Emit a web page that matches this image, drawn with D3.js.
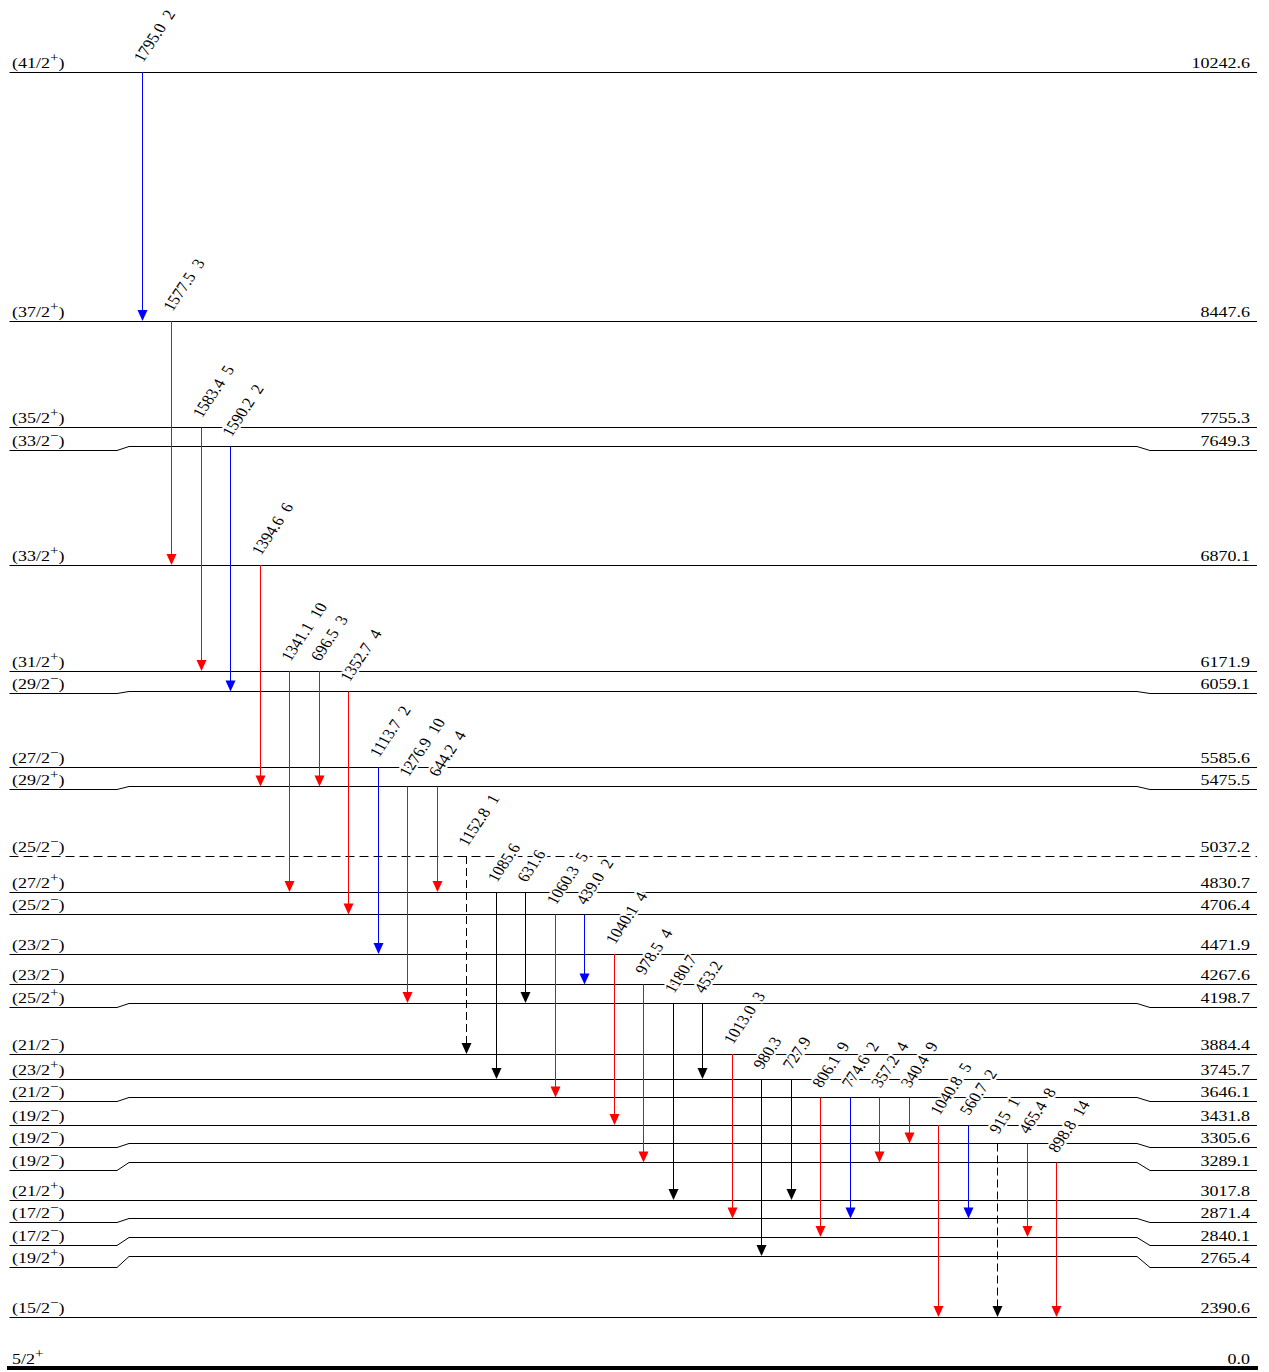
<!DOCTYPE html>
<html>
<head>
<meta charset="utf-8">
<script src="https://cdn.jsdelivr.net/npm/d3@7"></script>
<style>
  html, body { margin: 0; padding: 0; background: #fff; }
  svg { display: block; }
  text { font-family: "Liberation Serif", "Times New Roman", serif; fill: #000; }
</style>
</head>
<body>
<svg id="scheme" width="1269" height="1372"></svg>
<script>
// ---- Levels (keV), spin, parity, tentative assignment ----
const levelEnergy = [10242.6, 8447.6, 7755.3, 7649.3, 6870.1, 6171.9, 6059.1, 5585.6, 5475.5,
  5037.2, 4830.7, 4706.4, 4471.9, 4267.6, 4198.7, 3884.4, 3745.7, 3646.1, 3431.8, 3305.6,
  3289.1, 3017.8, 2871.4, 2840.1, 2765.4, 2390.6, 0.0];
const levelSpin = ["41/2", "37/2", "35/2", "33/2", "33/2", "31/2", "29/2", "27/2", "29/2",
  "25/2", "27/2", "25/2", "23/2", "23/2", "25/2", "21/2", "23/2", "21/2", "19/2", "19/2",
  "19/2", "21/2", "17/2", "17/2", "19/2", "15/2", "5/2"];
const levelParity = ["+", "+", "+", "−", "+", "+", "−", "−", "+",
  "−", "+", "−", "−", "−", "+", "−", "+", "−", "−", "−",
  "−", "+", "−", "−", "+", "−", "+"];
const levelTentative = levelEnergy.map(e => e !== 0);
const dashedLevels = [5037.2];
const groundLevel = 0.0;

// ---- Gamma transitions ----
const gammaLabel = ["1795.0", "1577.5", "1583.4", "1590.2", "1394.6", "1341.1", "696.5", "1352.7",
  "1113.7", "1276.9", "644.2", "1152.8", "1085.6", "631.6", "1060.3", "439.0", "1040.1", "978.5",
  "1180.7", "453.2", "1013.0", "980.3", "727.9", "806.1", "774.6", "357.2", "340.4", "1040.8",
  "560.7", "915", "465.4", "898.8"];
const gammaIntensity = [2, 3, 5, 2, 6, 10, 3, 4,
  2, 10, 4, 1, null, null, 5, 2, 4, 4,
  null, null, 3, null, null, 9, 2, 4, 9, 5,
  2, 1, 8, 14];
const gammaFrom = [10242.6, 8447.6, 7755.3, 7649.3, 6870.1, 6171.9, 6171.9, 6059.1,
  5585.6, 5475.5, 5475.5, 5037.2, 4830.7, 4830.7, 4706.4, 4706.4, 4471.9, 4267.6,
  4198.7, 4198.7, 3884.4, 3745.7, 3745.7, 3646.1, 3646.1, 3646.1, 3646.1, 3431.8,
  3431.8, 3305.6, 3305.6, 3289.1];
const gammaTo = [8447.6, 6870.1, 6171.9, 6059.1, 5475.5, 4830.7, 5475.5, 4706.4,
  4471.9, 4198.7, 4830.7, 3884.4, 3745.7, 4198.7, 3646.1, 4267.6, 3431.8, 3289.1,
  3017.8, 3745.7, 2871.4, 2765.4, 3017.8, 2840.1, 2871.4, 3289.1, 3305.6, 2390.6,
  2871.4, 2390.6, 2840.1, 2390.6];
// multipolarity group: "M1" -> blue, "E2" -> red, "u" -> unassigned (black)
const gammaGroup = ["M1", "E2", "E2", "M1", "E2", "E2", "E2", "E2",
  "M1", "E2", "E2", "u", "u", "u", "E2", "M1", "E2", "E2",
  "u", "u", "E2", "u", "u", "E2", "M1", "E2", "E2", "E2",
  "M1", "u", "E2", "E2"];
const gammaTentative = ["1152.8", "915"];

// ---- Drawing ----
const svg = d3.select("#scheme");
const groupColor = { M1: "#0000ff", E2: "#ff0000", u: "#000000" };
const textStretch = 1.16;

// vertical layout of the scheme: energies mapped piecewise so close levels stay apart
const yMid = d3.scaleLinear()
  .domain(levelEnergy)
  .range([72, 321, 427.5, 446.5, 565, 671, 691.5, 767, 786.5, 856, 892, 914.5, 954, 984.5,
    1003, 1054, 1079, 1097.5, 1125, 1143.5, 1162.5, 1200, 1218.5, 1237, 1256, 1317, 1368]);

// label rows: pushed down so the end-of-line labels never collide
const labelGap = 22.5;
const labelRow = new Map();
let prev = -Infinity;
levelEnergy.forEach(e => {
  const r = Math.max(yMid(e), prev + labelGap);
  labelRow.set(e, r);
  prev = r;
});

const xLeft = 9.5, xKinkL0 = 117, xKinkL1 = 129, xKinkR0 = 1137, xKinkR1 = 1150, xRight = 1257;
const px = v => Math.round(v - 0.5) + 0.5;

const levels = levelEnergy.map((e, i) => ({
  e, spin: levelSpin[i], parity: levelParity[i], tentative: levelTentative[i],
  dashed: dashedLevels.includes(e), ground: e === groundLevel
}));

const gLevels = svg.append("g");
levels.forEach(d => {
  const m = px(yMid(d.e)), r = px(labelRow.get(d.e));
  if (d.ground) {
    gLevels.append("line")
      .attr("x1", 7).attr("x2", 1258).attr("y1", yMid(d.e)).attr("y2", yMid(d.e))
      .attr("stroke", "#000").attr("stroke-width", 4);
  } else {
    const path = d3.path();
    path.moveTo(xLeft, r);
    path.lineTo(xKinkL0, r);
    path.lineTo(xKinkL1, m);
    path.lineTo(xKinkR0, m);
    path.lineTo(xKinkR1, r);
    path.lineTo(xRight, r);
    gLevels.append("path")
      .attr("d", path.toString())
      .attr("fill", "none")
      .attr("stroke", "#000")
      .attr("stroke-width", 1)
      .attr("stroke-dasharray", d.dashed ? "9,5" : null);
  }
  const base = labelRow.get(d.e) - 4.5;
  // spin-parity on the left
  const tl = gLevels.append("text")
    .attr("transform", `translate(12,${base}) scale(${textStretch},1)`)
    .attr("font-size", 15.5);
  tl.append("tspan").text((d.tentative ? "(" : "") + d.spin);
  tl.append("tspan").attr("font-size", 13).attr("dy", -6).text(d.parity);
  if (d.tentative) tl.append("tspan").attr("dy", 6).text(")");
  // excitation energy on the right
  gLevels.append("text")
    .attr("transform", `translate(1250,${base}) scale(${textStretch},1)`)
    .attr("font-size", 15.5)
    .attr("text-anchor", "end")
    .text(d.e.toFixed(1));
});

const gammas = gammaLabel.map((lab, i) => ({
  lab, inten: gammaIntensity[i], from: gammaFrom[i], to: gammaTo[i],
  color: groupColor[gammaGroup[i]], dashed: gammaTentative.includes(lab), idx: i
}));

const xGamma = d3.scaleLinear().domain([0, gammas.length - 1]).range([142, 142 + 29.5 * (gammas.length - 1)]);
const headLen = 11, headHalf = 5;

const gArrows = svg.append("g");
gammas.forEach(d => {
  const x = px(xGamma(d.idx));
  const y0 = yMid(d.from), y1 = yMid(d.to);
  gArrows.append("line")
    .attr("x1", x).attr("x2", x).attr("y1", y0).attr("y2", y1 - headLen + 1)
    .attr("stroke", d.color).attr("stroke-width", 1)
    .attr("stroke-dasharray", d.dashed ? "8,4" : null);
  const tri = d3.path();
  tri.moveTo(x - headHalf, y1 - headLen);
  tri.lineTo(x + headHalf, y1 - headLen);
  tri.lineTo(x, y1);
  tri.closePath();
  gArrows.append("path").attr("d", tri.toString()).attr("fill", d.color);
});

const gLabels = svg.append("g");
gammas.forEach(d => {
  const x = xGamma(d.idx), y = yMid(d.from);
  const t = gLabels.append("text")
    .attr("transform", `translate(${x + 1},${y - 9}) scale(${textStretch},1) rotate(-60)`)
    .attr("font-size", 15)
    .attr("stroke", "#fff").attr("stroke-width", 4).attr("stroke-linejoin", "round")
    .attr("paint-order", "stroke");
  t.append("tspan").text(d.lab);
  if (d.inten !== null) t.append("tspan").attr("dx", 8).text(d.inten);
});
</script>
</body>
</html>
